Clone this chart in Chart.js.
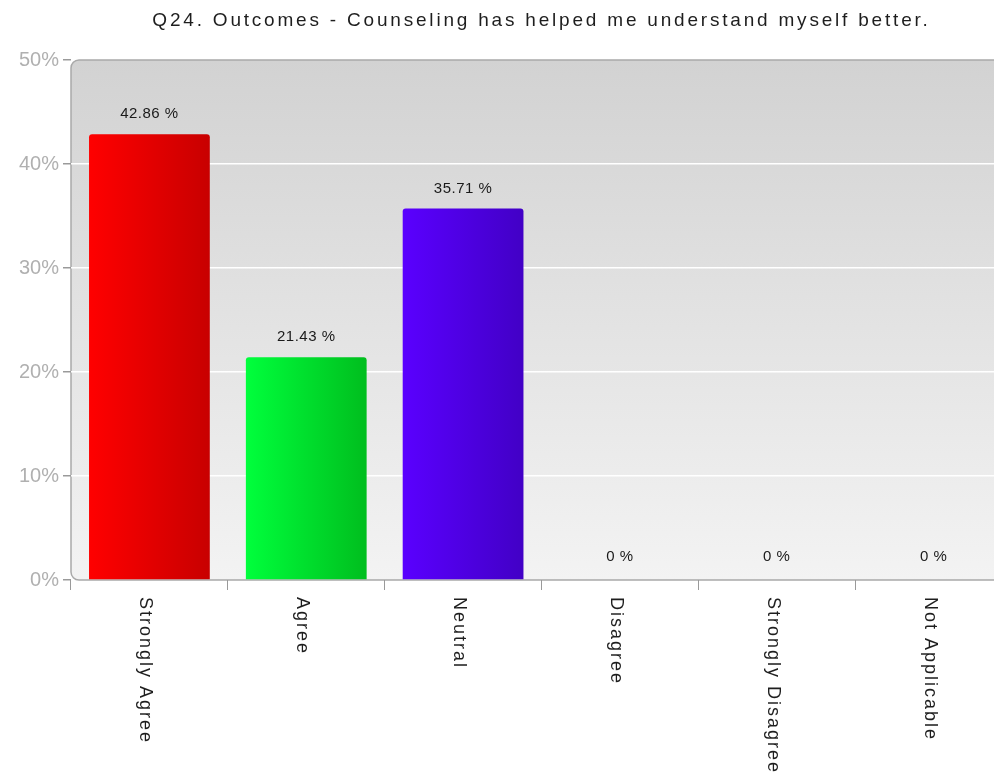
<!DOCTYPE html>
<html>
<head>
<meta charset="utf-8">
<title>Q24 Outcomes</title>
<script src="https://cdn.jsdelivr.net/npm/chart.js"></script>
<style>
  html, body { margin: 0; padding: 0; overflow: hidden; background: #fff; }
  #wrap { width: 1012px; height: 776px; position: relative; }
</style>
</head>
<body>
<div id="wrap"><canvas id="myChart"></canvas></div>
<script>
const chartTitle = 'Q24. Outcomes - Counseling has helped me understand myself better.';
const categories = ['Strongly Agree', 'Agree', 'Neutral', 'Disagree', 'Strongly Disagree', 'Not Applicable'];
const percentages = [42.86, 21.43, 35.71, 0, 0, 0];
const barLeftColors = ['#ff0000', '#00ff3c', '#5a00ff', '#999999', '#999999', '#999999'];
const barRightColors = ['#c80000', '#00be1e', '#4200c6', '#999999', '#999999', '#999999'];
const barPct = 0.77;
const FONT = "'Liberation Sans', Arial, sans-serif";

// gradient across each bar, left -> right
function barGradient(ctx) {
  const chart = ctx.chart;
  const a = chart.chartArea;
  const i = ctx.dataIndex;
  if (!a || i === undefined) return barLeftColors[0];
  const xs = chart.scales.x;
  const cx = xs.getPixelForValue(i);
  const half = (a.width / categories.length) * barPct / 2;
  const g = chart.ctx.createLinearGradient(cx - half, 0, cx + half, 0);
  g.addColorStop(0, barLeftColors[i]);
  g.addColorStop(1, barRightColors[i]);
  return g;
}

const framePlugin = {
  id: 'frame',
  beforeDraw(chart) {
    const { ctx, chartArea: a } = chart;
    const r = 8;
    ctx.save();
    ctx.beginPath();
    ctx.moveTo(a.right, a.top);
    ctx.lineTo(a.left + r, a.top);
    ctx.arcTo(a.left, a.top, a.left, a.top + r, r);
    ctx.lineTo(a.left, a.bottom - r);
    ctx.arcTo(a.left, a.bottom, a.left + r, a.bottom, r);
    ctx.lineTo(a.right, a.bottom);
    const g = ctx.createLinearGradient(0, a.top, 0, a.bottom);
    g.addColorStop(0, '#d2d2d2');
    g.addColorStop(1, '#f3f3f3');
    ctx.fillStyle = g;
    ctx.fill();
    ctx.strokeStyle = '#a9a9a9';
    ctx.lineWidth = 1.5;
    ctx.stroke();
    ctx.restore();
  }
};

const textPlugin = {
  id: 'texts',
  afterDatasetsDraw(chart) {
    const ctx = chart.ctx;
    const meta = chart.getDatasetMeta(0);
    ctx.save();
    ctx.font = '15px ' + FONT;
    ctx.fillStyle = '#1a1a1a';
    ctx.textAlign = 'center';
    ctx.textBaseline = 'middle';
    ctx.letterSpacing = '0.5px';
    meta.data.forEach((el, i) => {
      ctx.fillText(percentages[i] + ' %', el.x, el.y - (percentages[i] > 0 ? 20 : 23));
    });
    ctx.restore();
  },
  afterDraw(chart) {
    const ctx = chart.ctx;
    const a = chart.chartArea;
    ctx.save();
    // title
    ctx.font = '19px ' + FONT;
    ctx.fillStyle = '#1e1e1e';
    ctx.textAlign = 'center';
    ctx.textBaseline = 'middle';
    ctx.letterSpacing = '2.8px';
    ctx.fillText(chartTitle, (a.left + a.right) / 2, 21);
    // category labels, rotated clockwise
    ctx.font = '18px ' + FONT;
    ctx.letterSpacing = '2px';
    ctx.textAlign = 'left';
    categories.forEach((c, i) => {
      const x = chart.scales.x.getPixelForValue(i) - 4;
      ctx.save();
      ctx.translate(x, a.bottom + 17);
      ctx.rotate(Math.PI / 2);
      ctx.fillText(c, 0, 0);
      ctx.restore();
    });
    ctx.restore();
  }
};

new Chart(document.getElementById('myChart'), {
  type: 'bar',
  data: {
    labels: categories,
    datasets: [{
      data: percentages,
      backgroundColor: barGradient,
      borderWidth: 0,
      borderRadius: { topLeft: 3, topRight: 3 },
      borderSkipped: 'bottom',
      barPercentage: barPct,
      categoryPercentage: 1
    }]
  },
  options: {
    responsive: true,
    maintainAspectRatio: false,
    animation: false,
    layout: { padding: { top: 60, left: 0, right: 0, bottom: 0 } },
    plugins: {
      legend: { display: false },
      tooltip: { enabled: false },
      title: { display: false }
    },
    scales: {
      x: {
        offset: true,
        border: { display: false },
        grid: { drawOnChartArea: false, tickLength: 10, color: '#9a9a9a' },
        ticks: { display: false },
        afterFit(s) { s.height = 196; }
      },
      y: {
        min: 0,
        max: 50,
        border: { display: false },
        grid: {
          color: (c) => (c.tick && c.tick.value % 50 === 0) ? 'rgba(0,0,0,0)' : '#ffffff',
          tickColor: '#9a9a9a',
          tickLength: 8,
          lineWidth: 1.5
        },
        ticks: {
          stepSize: 10,
          padding: 4,
          color: '#b0b0b0',
          font: { family: FONT, size: 20 },
          callback: (v) => v + '%'
        },
        afterFit(s) { s.width = 71; }
      }
    }
  },
  plugins: [framePlugin, textPlugin]
});
</script>
</body>
</html>
